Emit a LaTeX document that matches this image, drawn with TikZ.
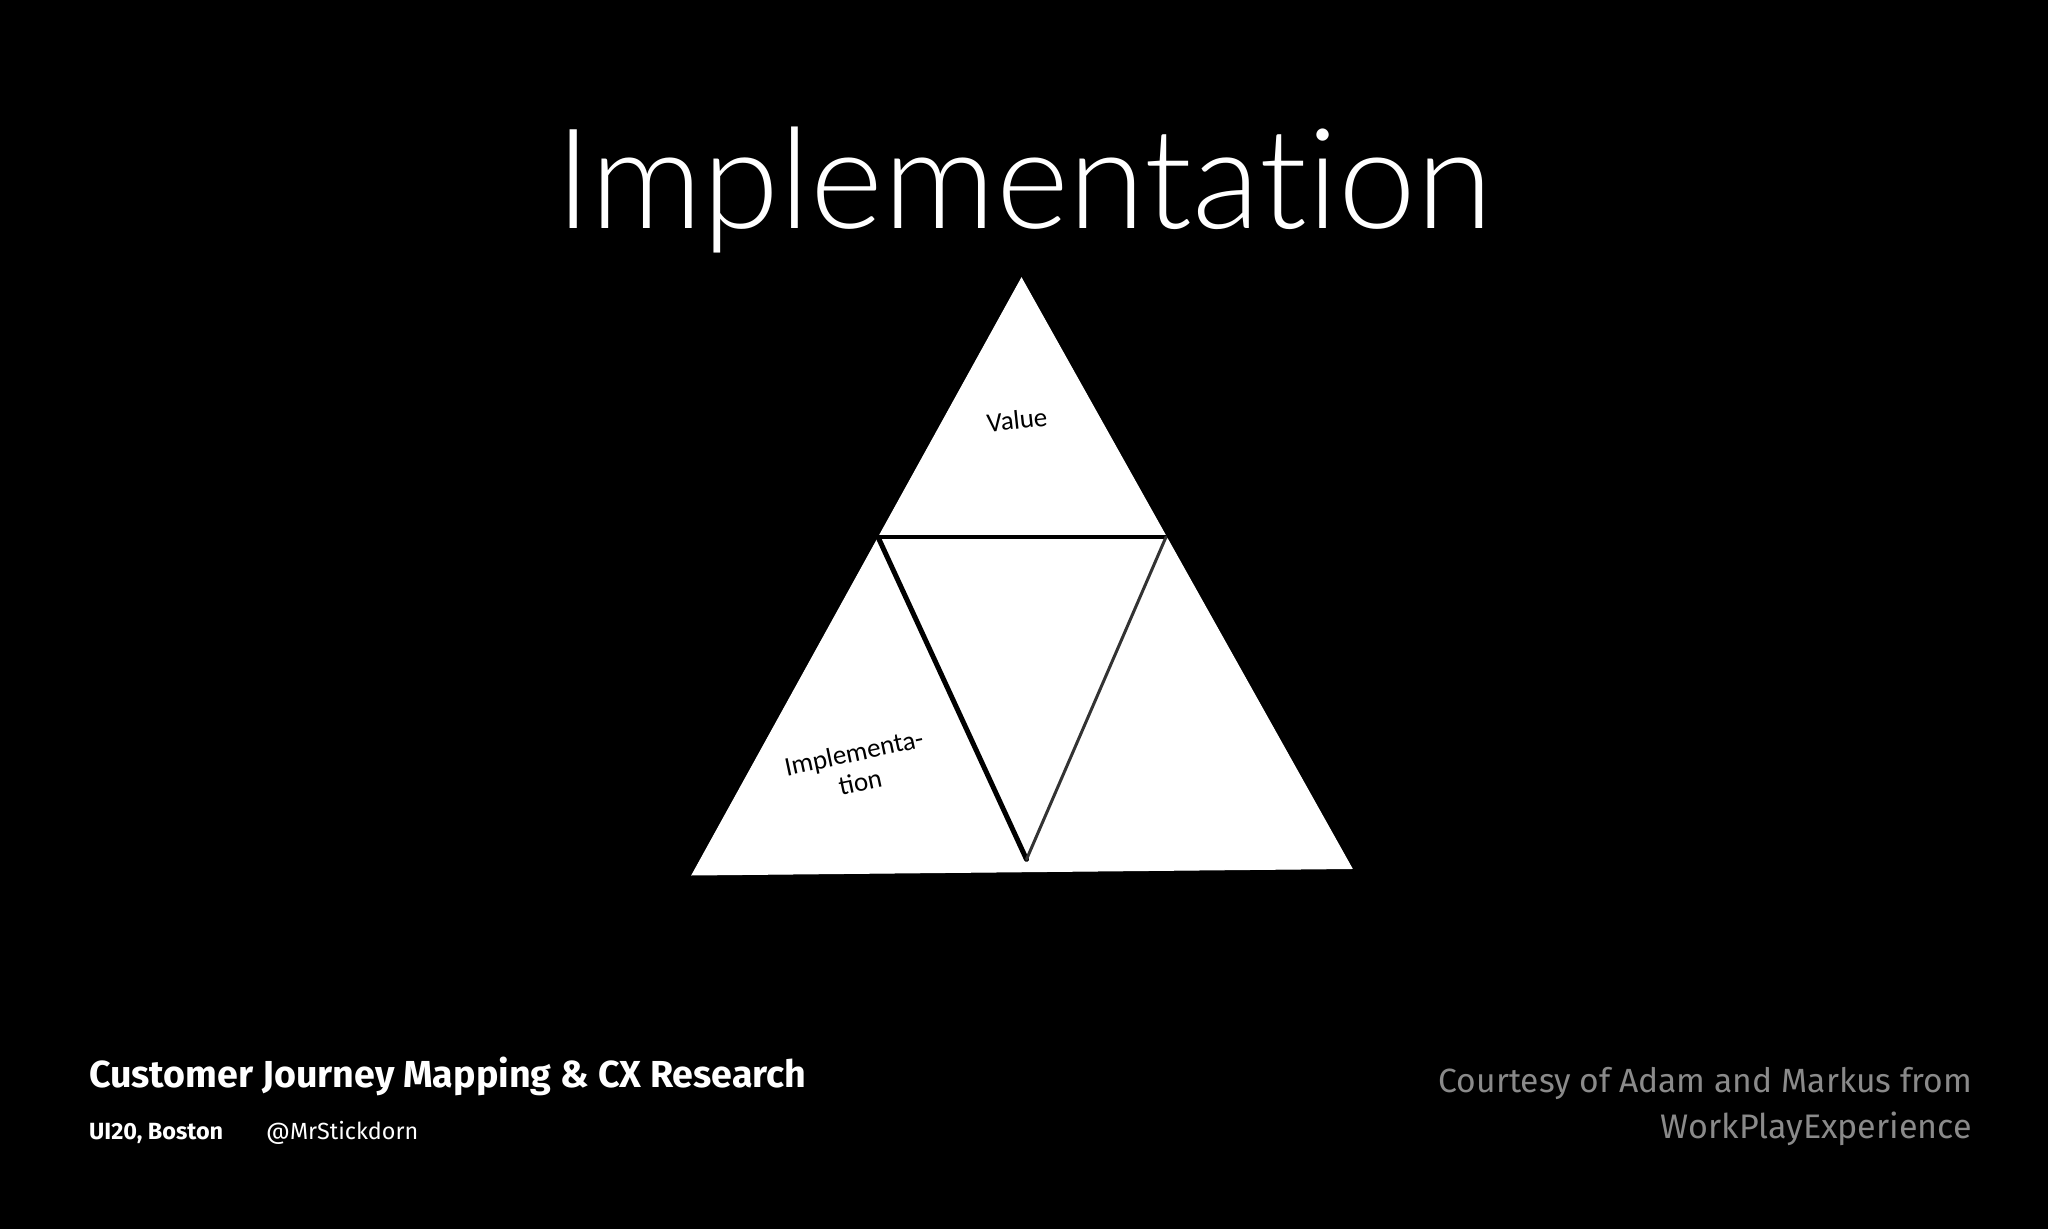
\documentclass[tikz,border=0pt]{standalone}
\usepackage{fontspec}
\setmainfont{Lato}
\newfontfamily\titlefont[Ligatures=NoCommon]{Lato Light}
\newfontfamily\footfont{Fira Sans}
\newfontfamily\handfont{Carlito}
\definecolor{footgray}{HTML}{8A8A8A}
\begin{document}
\begin{tikzpicture}[x=1pt,y=1pt,
  tri/.style={fill=white,draw=white,line width=1pt,line join=miter},
  split/.style={draw=black,line cap=round},
  hand/.style={font=\handfont\fontsize{27}{30}\selectfont,text=black,inner sep=0pt,align=center},
  foot/.style={inner sep=0pt}]
\fill[black] (0,0) rectangle (2048,1229);
\useasboundingbox (0,0) rectangle (2048,1229);
% title
\node[foot,anchor=base west,text=white] (title) at (555,1000) {\resizebox{937pt}{!}{\titlefont Implementation}};
% triangle
\coordinate (apex) at (1021.5,950.8);
\coordinate (bl) at (692,354);
\coordinate (br) at (1352,360.5);
\coordinate (ml) at (878,692);
\coordinate (mr) at (1166,692);
\coordinate (ib) at (1026.5,369.6);
\filldraw[tri] (apex) -- (br) -- (bl) -- cycle;
\draw[split,line width=4pt] (ml) -- (mr);
\draw[split,line width=5pt] (ml) -- (ib);
\draw[split,line width=3pt,draw=black!80] (mr) -- (ib);
\node[hand,rotate=6] (value) at (1017,809) {Value};
\node[hand,rotate=12] (impl) at (857,462) {Implementa-\\tion};
% footer
\node[foot,anchor=base west,text=white] (cjm) at (89,141) {\resizebox{717pt}{!}{\footfont\bfseries Customer Journey Mapping \& CX Research}};
\node[foot,anchor=base west,text=white] (ui) at (89,89) {\resizebox{134pt}{!}{\footfont\bfseries UI20, Boston}};
\node[foot,anchor=base west,text=white] (tw) at (266,89) {\resizebox{152pt}{!}{\footfont @MrStickdorn}};
\node[foot,anchor=base east,text=footgray] (court) at (1972,136) {\resizebox{533pt}{!}{\footfont Courtesy of Adam and Markus from}};
\node[foot,anchor=base east,text=footgray] (wpe) at (1972,90) {\resizebox{311pt}{!}{\footfont WorkPlayExperience}};
\end{tikzpicture}
\end{document}
